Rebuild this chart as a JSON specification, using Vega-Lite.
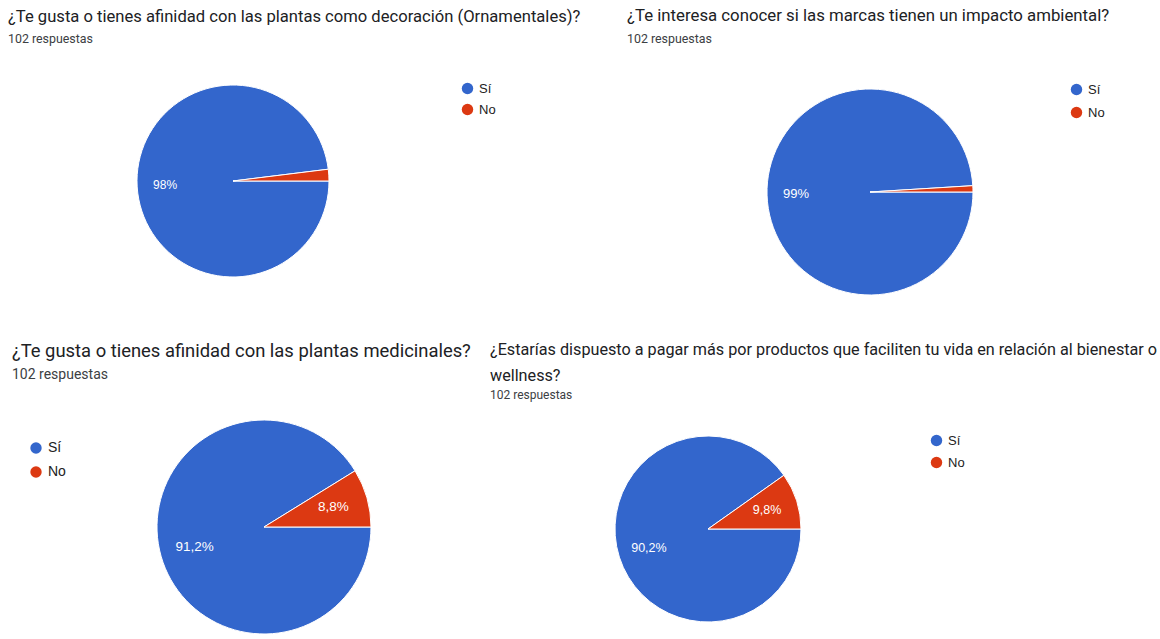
{
  "$schema": "https://vega.github.io/schema/vega-lite/v6.json",
  "background": "#ffffff",
  "padding": {"left": 0, "top": 8, "right": 0, "bottom": 0},
  "spacing": 7,
  "config": {
    "view": {"stroke": null},
    "title": {"font": "Roboto", "fontWeight": "normal", "color": "#202124", "subtitleFont": "Roboto", "subtitleColor": "#3c4043", "anchor": "start", "frame": "group"},
    "legend": {"symbolType": "circle", "symbolSize": 130, "symbolStrokeWidth": 0, "labelFont": "Liberation Sans", "labelFontSize": 13, "labelColor": "#222222", "labelOffset": 5, "padding": 0}
  },
  "resolve": {"scale": {"color": "independent", "theta": "independent"}, "legend": {"color": "independent"}},
  "vconcat": [
    {
      "bounds": "flush",
      "spacing": 154,
      "resolve": {"scale": {"color": "independent", "theta": "independent"}, "legend": {"color": "independent"}},
      "hconcat": [
        {
          "width": 466, "height": 262,
          "title": {"text": "¿Te gusta o tienes afinidad con las plantas como decoración (Ornamentales)?", "subtitle": "102 respuestas", "fontSize": 16.6, "subtitleFontSize": 12.4, "dx": 8, "offset": 5, "subtitlePadding": 7.5},
          "data": {"values": [
            {"respuesta": "Sí", "pct": 98.04, "label": "98%"},
            {"respuesta": "No", "pct": 1.96, "label": ""}
          ]},
          "encoding": {
            "theta": {"field": "pct", "type": "quantitative", "stack": true, "scale": {"range": [1.5708, 7.854]}},
            "color": {"field": "respuesta", "type": "nominal", "scale": {"domain": ["Sí", "No"], "range": ["#3366cc", "#dc3912"]}, "legend": {"title": null, "orient": "none", "legendX": 461, "legendY": 32, "rowPadding": 7}},
            "detail": {"field": "respuesta"},
            "order": {"field": "respuesta", "sort": "descending"}
          },
          "layer": [
            {"mark": {"type": "arc", "outerRadius": 96, "stroke": "#ffffff", "strokeWidth": 1}},
            {"mark": {"type": "text", "radius": 68, "font": "Liberation Sans", "fontSize": 12}, "encoding": {"text": {"field": "label"}, "color": {"value": "#ffffff"}}}
          ]
        },
        {
          "width": 500, "height": 284,
          "title": {"text": "¿Te interesa conocer si las marcas tienen un impacto ambiental?", "subtitle": "102 respuestas", "fontSize": 16.8, "subtitleFontSize": 12.4, "dx": 7, "offset": 5, "subtitlePadding": 7.5},
          "data": {"values": [
            {"respuesta": "Sí", "pct": 99.02, "label": "99%"},
            {"respuesta": "No", "pct": 0.98, "label": ""}
          ]},
          "encoding": {
            "theta": {"field": "pct", "type": "quantitative", "stack": true, "scale": {"range": [1.5708, 7.854]}},
            "color": {"field": "respuesta", "type": "nominal", "scale": {"domain": ["Sí", "No"], "range": ["#3366cc", "#dc3912"]}, "legend": {"title": null, "orient": "none", "legendX": 450, "legendY": 33, "rowPadding": 9}},
            "detail": {"field": "respuesta"},
            "order": {"field": "respuesta", "sort": "descending"}
          },
          "layer": [
            {"mark": {"type": "arc", "outerRadius": 103, "stroke": "#ffffff", "strokeWidth": 1}},
            {"mark": {"type": "text", "radius": 74, "font": "Liberation Sans", "fontSize": 13}, "encoding": {"text": {"field": "label"}, "color": {"value": "#ffffff"}}}
          ]
        }
      ]
    },
    {
      "bounds": "flush",
      "spacing": 0,
      "resolve": {"scale": {"color": "independent", "theta": "independent"}, "legend": {"color": "independent"}},
      "hconcat": [
        {
          "width": 528, "height": 216,
          "title": {"text": "¿Te gusta o tienes afinidad con las plantas medicinales?", "subtitle": "102 respuestas", "fontSize": 18.4, "subtitleFontSize": 14, "dx": 12, "offset": 36, "subtitlePadding": 8},
          "data": {"values": [
            {"respuesta": "Sí", "pct": 91.2, "label": "91,2%"},
            {"respuesta": "No", "pct": 8.8, "label": "8,8%"}
          ]},
          "encoding": {
            "theta": {"field": "pct", "type": "quantitative", "stack": true, "scale": {"range": [1.5708, 7.854]}},
            "color": {"field": "respuesta", "type": "nominal", "scale": {"domain": ["Sí", "No"], "range": ["#3366cc", "#dc3912"]}, "legend": {"title": null, "orient": "none", "legendX": 29, "legendY": 22, "rowPadding": 10, "labelFontSize": 14}},
            "detail": {"field": "respuesta"},
            "order": {"field": "respuesta", "sort": "descending"}
          },
          "layer": [
            {"mark": {"type": "arc", "outerRadius": 107, "stroke": "#ffffff", "strokeWidth": 1}},
            {"mark": {"type": "text", "radius": 72, "font": "Liberation Sans", "fontSize": 13.5}, "encoding": {"text": {"field": "label"}, "color": {"value": "#ffffff"}}}
          ]
        },
        {
          "width": 360, "height": 220,
          "title": {"text": ["¿Estarías dispuesto a pagar más por productos que faciliten tu vida en relación al bienestar o", "wellness?"], "subtitle": "102 respuestas", "fontSize": 16.2, "lineHeight": 26, "subtitleFontSize": 12, "dx": -38, "offset": 18, "subtitlePadding": 6},
          "data": {"values": [
            {"respuesta": "Sí", "pct": 90.2, "label": "90,2%"},
            {"respuesta": "No", "pct": 9.8, "label": "9,8%"}
          ]},
          "encoding": {
            "theta": {"field": "pct", "type": "quantitative", "stack": true, "scale": {"range": [1.5708, 7.854]}},
            "color": {"field": "respuesta", "type": "nominal", "scale": {"domain": ["Sí", "No"], "range": ["#3366cc", "#dc3912"]}, "legend": {"title": null, "orient": "none", "legendX": 402, "legendY": 15, "rowPadding": 8}},
            "detail": {"field": "respuesta"},
            "order": {"field": "respuesta", "sort": "descending"}
          },
          "layer": [
            {"mark": {"type": "arc", "outerRadius": 93, "stroke": "#ffffff", "strokeWidth": 1}},
            {"mark": {"type": "text", "radius": 62, "font": "Liberation Sans", "fontSize": 12.5}, "encoding": {"text": {"field": "label"}, "color": {"value": "#ffffff"}}}
          ]
        }
      ]
    }
  ]
}
